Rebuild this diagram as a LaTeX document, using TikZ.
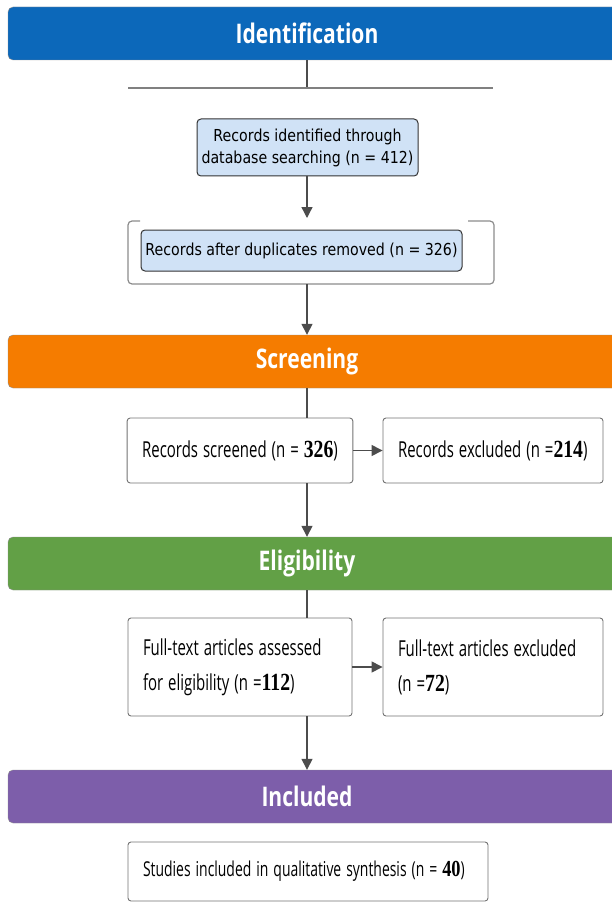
\documentclass[tikz,border=0pt]{standalone}
\usepackage{fontspec}
\usetikzlibrary{arrows.meta}
\setmainfont[FakeStretch=0.68]{Open Sans}
\newfontfamily\headfont[FakeStretch=0.78]{Open Sans}
\newfontfamily\dbfont[FakeStretch=0.86]{DejaVu Sans}
\newfontfamily\numfont[FakeStretch=0.8, Scale=1.12]{Liberation Serif}
\newcommand{\cnt}[1]{{\numfont\bfseries #1}}
\DeclareRobustCommand{\tightspace}{\spaceskip=5pt\relax}
\definecolor{idblue}{RGB}{12,104,186}
\definecolor{scorange}{RGB}{245,124,0}
\definecolor{elgreen}{RGB}{98,160,70}
\definecolor{inpurple}{RGB}{125,94,170}
\definecolor{paleblue}{RGB}{208,226,246}

\begin{document}
\begin{tikzpicture}[x=1pt, y=-1pt,
  banner/.style={draw=black!45, rounded corners=5pt, minimum width=612pt, minimum height=53pt,
    inner sep=0pt, text=white, font=\headfont\bfseries\fontsize{27}{30}\selectfont,
    execute at begin node=\hspace*{-14pt}},
  dbbox/.style={draw=black!80, fill=paleblue, rounded corners=4pt, line width=1pt,
    align=center, inner sep=0pt, font=\dbfont\fontsize{16.5}{22}\selectfont},
  stepbox/.style={draw=black!55, fill=white, rounded corners=3pt, line width=0.9pt,
    align=left, inner xsep=15pt, inner ysep=0pt,
    font=\fontsize{22}{35}\selectfont, execute at begin node=\tightspace},
  conn/.style={draw=black!70, line width=1.4pt},
  arr/.style={conn, -{Triangle[length=11pt, width=11pt]}}]
  \useasboundingbox (0,0) rectangle (611,904);

  \coordinate (spine) at (307,0);

  \node[banner, fill=idblue] (ident) at (314,33.5) {Identification};
  \coordinate (hl) at (307,88);
  \draw[conn] (ident.south -| spine) -- (hl);
  \draw[draw=black!50, line width=1.2pt] (128,88) -- (493,88);

  \node[dbbox, minimum width=221pt, minimum height=57pt] (found) at (307.5,147.5)
    {Records identified through\\database searching (n = 412)};
  \coordinate (ftop) at (307,218);
  \draw[arr] (found.south -| spine) -- (ftop);
  \draw[draw=black!45, line width=1.2pt, rounded corners=4pt]
    (140,221) -- (128,221) -- (128,284) -- (494,284) -- (494,221) -- (468,221);
  \node[dbbox, minimum width=321pt, minimum height=41pt] (dedup) at (301.5,250.5)
    {Records after duplicates removed (n = 326)};
  \coordinate (fbot) at (307,284);

  \node[banner, fill=scorange] (screen) at (314,361.5) {Screening};
  \draw[arr] (fbot) -- (screen.north -| spine);

  \node[stepbox, minimum height=65pt, minimum width=224pt, align=center] (screened) at (240,450.5)
    {Records screened (n = \cnt{326})};
  \node[stepbox, minimum height=65pt, text width=190pt] (excluded) at (493,450.5)
    {Records excluded (n =\cnt{214})};
  \draw[conn] (screen.south -| spine) -- (screened.north -| spine);
  \draw[arr] (screened) -- (excluded);

  \node[banner, fill=elgreen] (elig) at (314,563.5) {Eligibility};
  \draw[arr] (screened.south -| spine) -- (elig.north -| spine);

  \node[stepbox, minimum height=98pt, text width=194pt] (assessed) at (240,667)
    {Full-text articles assessed\\for eligibility (n =\cnt{112})};
  \node[stepbox, minimum height=98pt, text width=190pt] (ftexcl) at (493,667)
    {Full-text articles excluded\\(n =\cnt{72})};
  \draw[conn] (elig.south -| spine) -- (assessed.north -| spine);
  \draw[arr] (assessed) -- (ftexcl);

  \node[banner, fill=inpurple] (incl) at (314,796.5) {Included};
  \draw[arr] (assessed.south -| spine) -- (incl.north -| spine);

  \node[stepbox, minimum height=59pt, text width=330pt, font=\fontsize{20.5}{35}\selectfont]
    (studies) at (308,871.5)
    {Studies included in qualitative synthesis (n = \cnt{40})};
\end{tikzpicture}
\end{document}
